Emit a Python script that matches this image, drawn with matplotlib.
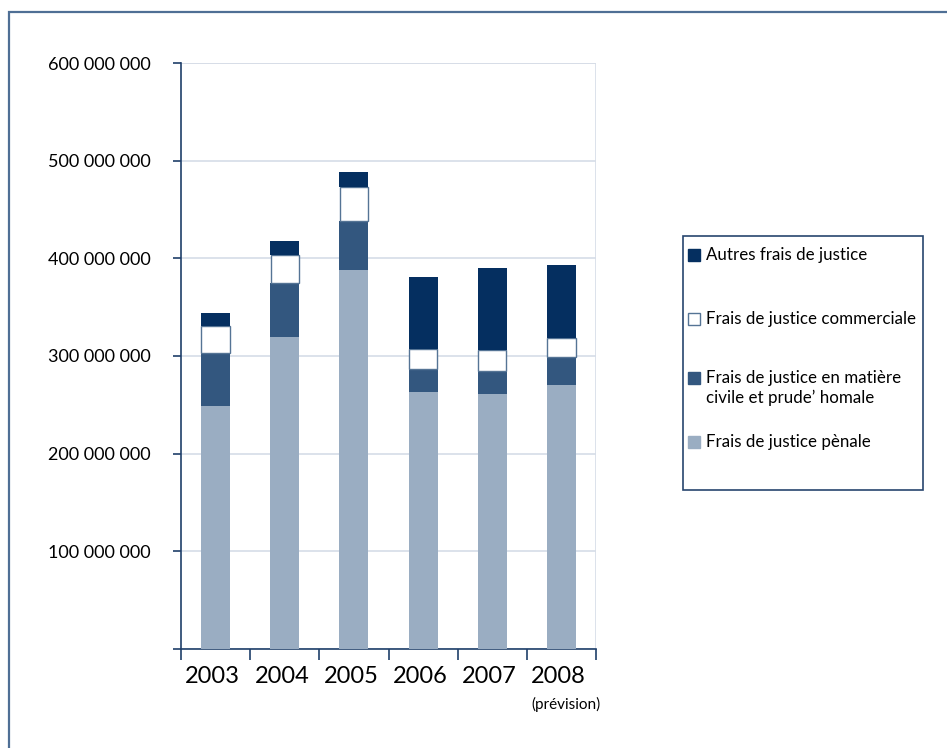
import matplotlib
matplotlib.use('Agg')
import numpy as np
import matplotlib.pyplot as plt
from matplotlib.patches import Rectangle

plt.rcParams['font.family'] = ['Lato', 'DejaVu Sans']

# frais de justice par année (en euros)
annees = ['2003', '2004', '2005', '2006', '2007', '2008']
penale = [249e6, 319e6, 388e6, 263e6, 261e6, 270e6]
civile = [54e6, 56e6, 50e6, 24e6, 24e6, 29e6]
commerciale = [28e6, 28e6, 35e6, 20e6, 21e6, 19e6]
autres = [13e6, 15e6, 15e6, 74e6, 84e6, 75e6]

series = ['Frais de justice pènale',
          'Frais de justice en matière\ncivile et prude\u2019 homale',
          'Frais de justice commerciale',
          'Autres frais de justice']
couleurs = ['#9aadc2', '#33577f', '#ffffff', '#052f60']
yticks = [0, 100e6, 200e6, 300e6, 400e6, 500e6, 600e6]

fig = plt.figure(figsize=(9.47, 7.48), dpi=100)
ax = fig.add_axes([181/947, 1-649/748, 415/947, 586/748])

x = np.arange(len(annees))
bas = np.zeros(len(annees))
for vals, c in zip([penale, civile, commerciale, autres], couleurs):
    if c == '#ffffff':
        ax.bar(x, vals, width=0.41, bottom=bas, color=c, edgecolor='#557495', linewidth=1.0, zorder=3)
    else:
        ax.bar(x, vals, width=0.42, bottom=bas, color=c, edgecolor='none', zorder=3)
    bas = bas + np.array(vals)

ax.set_xlim(-0.5, 5.5)
ax.set_ylim(0, 600e6)
ax.set_yticks(yticks)
ax.set_yticklabels(['' if v == 0 else f'{int(v):,}'.replace(',', ' ') for v in yticks], fontsize=13)
ax.set_xticks(np.arange(-0.5, 6, 1))
ax.set_xticklabels([])
ax.tick_params(axis='y', length=6, width=1.2, color='#1f3f6a', pad=16, direction='out')
ax.tick_params(axis='x', length=8, width=1.2, color='#1f3f6a', direction='out')

for i, a in enumerate(annees):
    ax.text(i - 0.04, -28e6, a, ha='center', va='center', fontsize=17, clip_on=False)
ax.text(5.07, -57e6, '(prévision)', ha='center', va='center', fontsize=11, clip_on=False)

ax.grid(axis='y', color='#d6dde7', linewidth=1.2, zorder=0)
ax.axvline(5.5, color='#d6dde7', linewidth=1.2, zorder=0)
ax.axhline(600e6, color='#d6dde7', linewidth=1.2, zorder=0)
for s in ['top', 'right']:
    ax.spines[s].set_visible(False)
for s in ['left', 'bottom']:
    ax.spines[s].set_color('#1f3f6a')
    ax.spines[s].set_linewidth(1.2)

# cadre extérieur
fig.patches.append(Rectangle((8.5/947, -0.05), 1.1, 1.05 - 11.5/748, transform=fig.transFigure,
                             fill=False, edgecolor='#4f6f95', linewidth=1.6, clip_on=False))

# légende
fig.patches.append(Rectangle((683/947, 1-490/748), 240/947, 254/748, transform=fig.transFigure,
                             fill=False, edgecolor='#27456e', linewidth=1.2))
leg_y = [255, 319, 378, 442]
ordre = [3, 2, 1, 0]
for yy, k in zip(leg_y, ordre):
    fig.patches.append(Rectangle((688/947, 1-(yy+6)/748), 12/947, 12/748, transform=fig.transFigure,
                                 facecolor=couleurs[k], edgecolor='#557495' if k == 2 else couleurs[k],
                                 linewidth=1))
    fig.text(706/947, 1-(yy-8)/748, series[k], ha='left', va='top', fontsize=12.2, linespacing=1.25)

fig.savefig('out.png', dpi=100)
